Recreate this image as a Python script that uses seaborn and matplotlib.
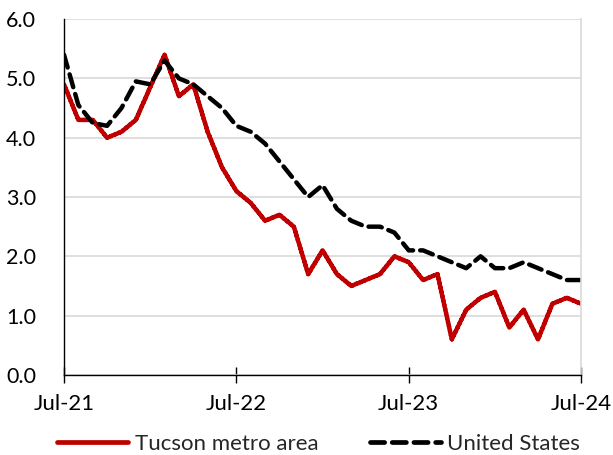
import matplotlib
matplotlib.use("Agg")
import matplotlib.pyplot as plt
import seaborn as sns
import pandas as pd
import numpy as np
from matplotlib.lines import Line2D

months = list(range(37))
tucson = [4.9, 4.3, 4.3, 4.0, 4.1, 4.3, 4.85, 5.4, 4.7, 4.9, 4.1, 3.5,
          3.1, 2.9, 2.6, 2.7, 2.5, 1.7, 2.1, 1.7, 1.5, 1.6, 1.7, 2.0,
          1.9, 1.6, 1.7, 0.6, 1.1, 1.3, 1.4, 0.8, 1.1, 0.6, 1.2, 1.3, 1.2]
us = [5.4, 4.55, 4.25, 4.2, 4.5, 4.95, 4.9, 5.3, 5.0, 4.9, 4.7, 4.5,
      4.2, 4.1, 3.9, 3.6, 3.3, 3.0, 3.2, 2.8, 2.6, 2.5, 2.5, 2.4,
      2.1, 2.1, 2.0, 1.9, 1.8, 2.0, 1.8, 1.8, 1.9, 1.8, 1.7, 1.6, 1.6]
tick_pos = [0, 12, 24, 36]
tick_labels = ["Jul-21", "Jul-22", "Jul-23", "Jul-24"]
series_names = ["Tucson metro area", "United States"]

df = pd.DataFrame({
    "month": months * 2,
    "value": tucson + us,
    "series": [series_names[0]] * len(months) + [series_names[1]] * len(months),
})

sns.set_theme(style="white")
plt.rcParams["font.family"] = ["Lato", "DejaVu Sans"]

fig = plt.figure(figsize=(6.13, 4.55), dpi=100)
ax = fig.add_axes([0.1044, 0.176, 0.8436, 0.782])

sns.lineplot(data=df, x="month", y="value", hue="series", style="series",
             palette=["#C00000", "#000000"], dashes=[(1, 0), (3, 1.6)],
             linewidth=3.2, ax=ax, legend=False)
for line in ax.lines:
    line.set_dash_capstyle("round")
    line.set_solid_joinstyle("miter")

ax.set_xlim(0, 36)
ax.set_ylim(0, 6)
ax.set_yticks(np.arange(0, 6.01, 1.0))
ax.set_yticklabels([f"{v:.1f}" for v in np.arange(0, 6.01, 1.0)])
ax.set_xticks(tick_pos)
ax.set_xticklabels(tick_labels)
ax.set_xlabel("")
ax.set_ylabel("")

ax.yaxis.grid(True, color="#D9D9D9", linewidth=1.2)
ax.set_axisbelow(True)
ax.spines["top"].set_visible(False)
ax.spines["right"].set_color("#D9D9D9")
ax.spines["right"].set_linewidth(1.2)
ax.spines["left"].set_color("black")
ax.spines["bottom"].set_color("black")
ax.spines["left"].set_linewidth(1.0)
ax.spines["bottom"].set_linewidth(1.0)

ax.tick_params(axis="x", direction="inout", length=11, width=1.0, color="black",
               bottom=True, pad=8, labelsize=16, labelcolor="black")
ax.tick_params(axis="y", left=False, pad=14, labelsize=15.5, labelcolor="black")

handles = [
    Line2D([], [], color="#C00000", linewidth=3.4, solid_capstyle="round"),
    Line2D([], [], color="black", linewidth=3.4, linestyle=(0, (3, 1.6)),
           dash_capstyle="round"),
]
fig.legend(handles, series_names, loc="center", bbox_to_anchor=(0.52, 0.025),
           ncol=2, frameon=False, fontsize=16, handlelength=3.2,
           columnspacing=2.3, handletextpad=0.3, borderpad=0.2)

fig.savefig("out.png", dpi=100)
